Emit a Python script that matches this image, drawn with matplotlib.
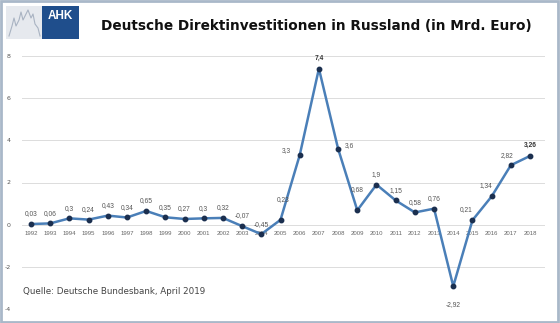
import matplotlib.pyplot as plt
from matplotlib.patches import Rectangle

# Direktinvestitionen pro Jahr, Mrd. Euro
years = list(range(1992, 2019))
values = [0.03, 0.06, 0.3, 0.24, 0.43, 0.34, 0.65, 0.35, 0.27, 0.3, 0.32,
          -0.07, -0.45, 0.23, 3.3, 7.4, 3.6, 0.68, 1.9, 1.15, 0.58, 0.76,
          -2.92, 0.21, 1.34, 2.82, 3.26]
labels = ['0,03', '0,06', '0,3', '0,24', '0,43', '0,34', '0,65', '0,35', '0,27',
          '0,3', '0,32', '-0,07', '-0,45', '0,23', '3,3', '7,4', '3,6', '0,68',
          '1,9', '1,15', '0,58', '0,76', '-2,92', '0,21', '1,34', '2,82', '3,26']
yticks = [-4, -2, 0, 2, 4, 6, 8]

W, H = 560, 323
fig = plt.figure(figsize=(W / 100, H / 100), dpi=100)
fig.patch.set_facecolor('white')

# Rahmen ums Bild
fig.add_artist(Rectangle((0.002, 0.004), 0.994, 0.992, transform=fig.transFigure,
                         fill=False, edgecolor='#a9b8c9', linewidth=2))

# Logo
fig.add_artist(Rectangle((6 / W, 1 - 39 / H), 36 / W, 33 / H, transform=fig.transFigure,
                         facecolor='#e6e9ee', edgecolor='none'))
fig.add_artist(Rectangle((42 / W, 1 - 39 / H), 37 / W, 33 / H, transform=fig.transFigure,
                         facecolor='#1f4e8c', edgecolor='none'))
fig.text(60.5 / W, 1 - 16 / H, 'AHK', color='white', fontsize=8.5, fontweight='bold',
         ha='center', va='center', family='Liberation Sans')
# stilisierte Silhouette
sx = [9, 12, 14, 16, 19, 21, 23, 25, 28, 31, 33, 35, 38, 40]
sy = [36, 26, 18, 26, 20, 12, 20, 16, 10, 18, 14, 24, 28, 36]
fig.add_artist(plt.Line2D([x / W for x in sx], [1 - y / H for y in sy],
                          transform=fig.transFigure, color='#a9b3c2', lw=0.8))

fig.text(316 / W, 1 - 26 / H, 'Deutsche Direktinvestitionen in Russland (in Mrd. Euro)',
         fontsize=9.8, fontweight='bold', ha='center', va='center', color='#111111')

ax = fig.add_axes([22 / W, 14 / H, 523 / W, 253 / H])
ax.set_xlim(1991.53, 2018.78)
ax.set_ylim(-4, 8)
ax.set_yticks(yticks)
ax.set_yticklabels([str(t) for t in yticks])
ax.tick_params(axis='y', length=0, labelsize=4.5, labelcolor='#555555', pad=8)
ax.set_xticks([])
for s in ax.spines.values():
    s.set_visible(False)
ax.grid(axis='y', color='#dcdcdc', linewidth=0.7)
ax.set_axisbelow(True)

# Jahreszahlen direkt unter der Nulllinie
for yr in years:
    ax.text(yr, -0.42, str(yr), fontsize=4.3, color='#666666', ha='center', va='center',
            family='Liberation Sans', zorder=1)

ax.plot(years, values, color='#4a7fb8', linewidth=1.8, zorder=2)
ax.plot(years, values, 'o', color='#1b2f4f', markersize=3.2, zorder=3)

offsets = {2004: (0, 0.45), 2005: (0.15, 0.95), 2006: (-0.7, 0.2), 2008: (0.6, 0.15),
           2009: (0, 1.0), 2014: (0, -0.85), 2015: (-0.35, 0.5), 2016: (-0.3, 0.5),
           2017: (-0.2, 0.45)}
for yr, v, lab in zip(years, values, labels):
    dx, dy = offsets.get(yr, (0, 0.48))
    bold = lab in ('7,4', '3,26')
    ax.text(yr + dx, v + dy, lab, fontsize=4.8, color='#333333' if bold else '#555555',
            fontweight='bold' if bold else 'normal', ha='center', va='center',
            family='Liberation Sans', zorder=4)

fig.text(23 / W, 1 - 292 / H, 'Quelle: Deutsche Bundesbank, April 2019', fontsize=6.3,
         color='#444444', ha='left', va='center', family='DejaVu Sans')

fig.savefig('out.png', dpi=100)
